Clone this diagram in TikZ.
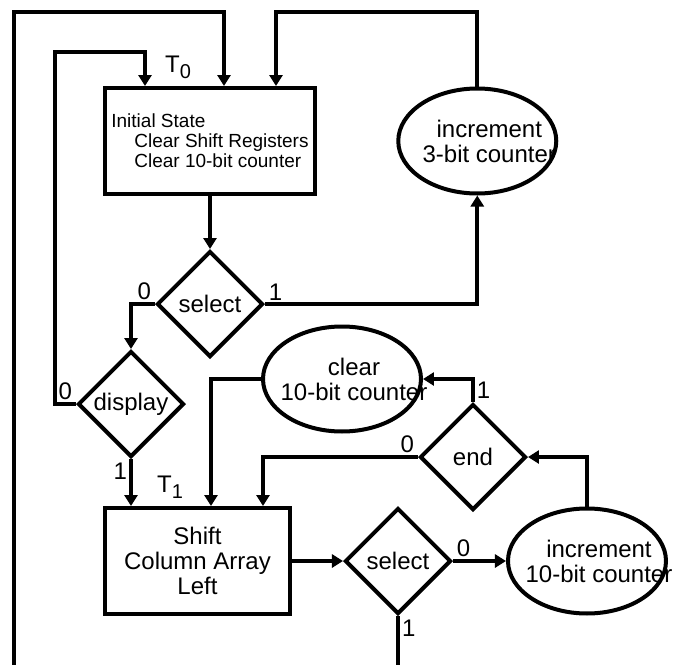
\documentclass[tikz,border=0pt]{standalone}
\usepackage{fontspec}
\setmainfont{Liberation Sans}
\usetikzlibrary{positioning,arrows.meta,shapes.geometric}

\newcommand{\tsub}[1]{\raisebox{-3pt}{\fontsize{10}{10}\selectfont #1}}

\begin{document}
\begin{tikzpicture}[every node/.style={font=\fontsize{12}{12.5}\selectfont},
  flow/.style={line width=2pt, -{Triangle[length=5.5pt,width=6.5pt]}},
  statebox/.style={draw, line width=2pt, minimum width=#1, minimum height=53pt, align=center},
  test/.style={draw, diamond, aspect=1, line width=2pt, inner sep=0pt, minimum width=53pt, minimum height=53pt},
  counter/.style={draw, ellipse, line width=2pt, minimum width=79pt, minimum height=52.5pt},
  bit/.style={inner sep=1pt}]
  \useasboundingbox (0,0) rectangle (338.5pt,-332.5pt);
  \clip (0,0) rectangle (338.5pt,-332.5pt);

  % states and tests
  \node[statebox=105pt, align=left, font=\fontsize{9.5}{10}\selectfont,
        label={[xshift=-16pt]above:T\tsub{0}}] (init) at (105pt,-70.5pt)
    {Initial State\\\hspace*{11.5pt}Clear Shift Registers\\\hspace*{11.5pt}Clear 10-bit counter};
  \node[test, below=26.5pt of init] (sel1) {select};
  \node[counter, right=39.5pt of init, label={[align=center, xshift=6pt]center:increment\\3-bit counter}] (inc3) {};
  \node[test] (disp) at (65.5pt,-202pt) {display};
  \node[statebox=92.5pt, label={[xshift=-13.75pt]above:T\tsub{1}}] (shift) at (98.75pt,-280.5pt)
    {Shift\\Column Array\\Left};
  \node[test, right=25.5pt of shift] (sel2) {select};
  \node[counter, right=26.5pt of sel2, label={[align=center, xshift=6pt]center:increment\\10-bit counter}] (inc10) {};
  \node[test] (endd) at (236.5pt,-228.5pt) {end};
  \node[counter, label={[align=center, xshift=6pt]center:clear\\10-bit counter}] (clr) at (171pt,-189.5pt) {};

  \coordinate (rail) at (7pt,-6pt);

  % connectors
  \draw[flow] (init.south) -- (sel1.north);
  \draw[flow] (sel1.east) -| node[bit, pos=0, above right] {1} (inc3.south);
  \draw[flow] (inc3.north) -- (inc3.north |- rail) -| ([xshift=33pt]init.north);
  \draw[flow] (sel1.west) -| node[bit, pos=0, above left] {0} (disp.north);
  \draw[flow] (disp.west) -| node[bit, pos=0, above left] {0} (27.5pt,-26pt) -| ([xshift=-32.5pt]init.north);
  \draw[flow] (disp.south) -- node[bit, pos=0, below left] {1} (disp.south |- shift.north);
  \draw[flow] (clr.west) -| ([xshift=6.75pt]shift.north);
  \draw[flow] (endd.north) |- node[bit, pos=0, above right] {1} (clr.east);
  \draw[flow] (endd.west) -| node[bit, pos=0, above left] {0} ([xshift=32.75pt]shift.north);
  \draw[flow] (shift.east) -- (sel2.west);
  \draw[flow] (sel2.east) -- node[bit, pos=0, above right] {0} (inc10.west);
  \draw[flow] (inc10.north) |- (endd.east);
  \draw[flow] (sel2.south) -- node[bit, pos=0, below right] {1} ++(0,-40pt) -| (rail) -| ([xshift=7pt]init.north);
\end{tikzpicture}
\end{document}
